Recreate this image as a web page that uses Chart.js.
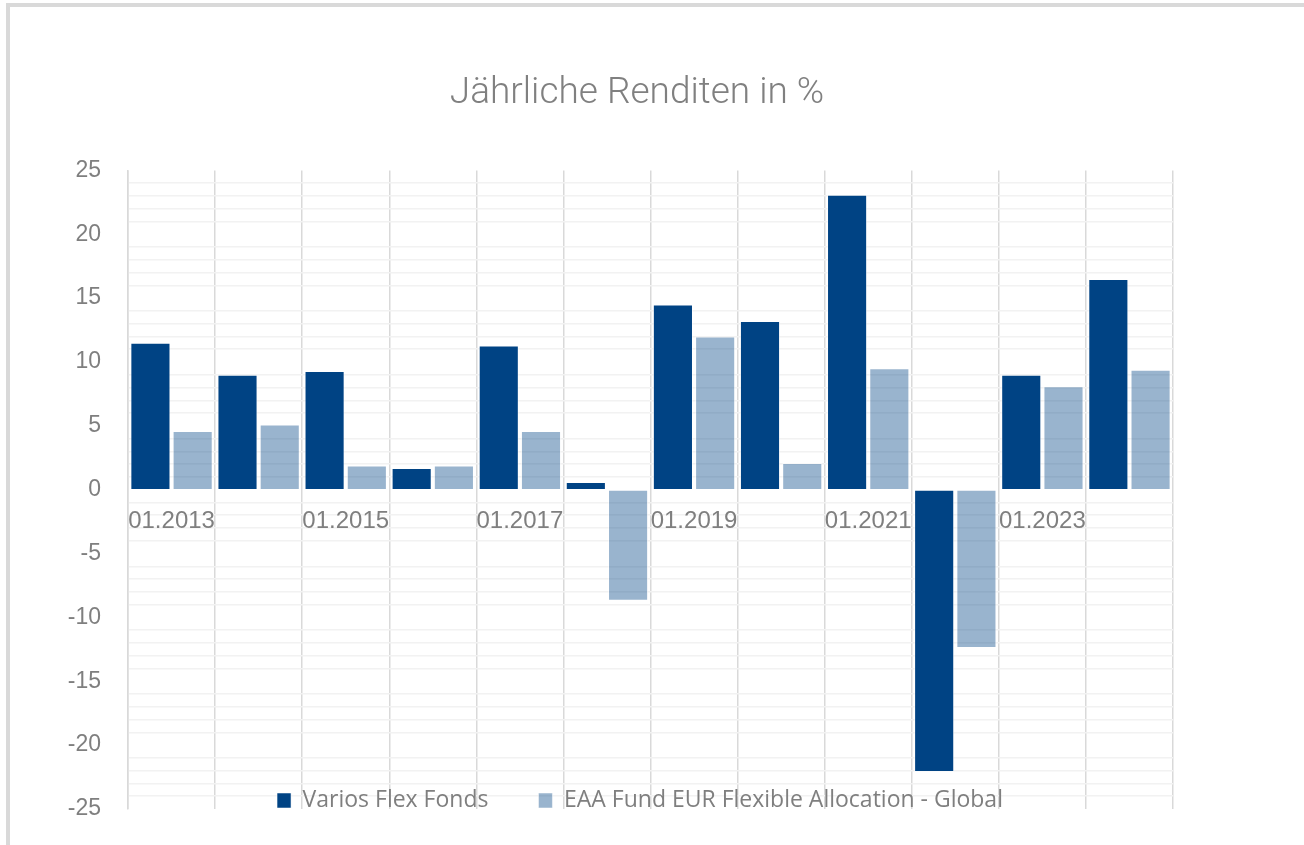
<!DOCTYPE html>
<html lang="de">
<head>
<meta charset="utf-8">
<title>Jährliche Renditen in %</title>
<script src="https://cdn.jsdelivr.net/npm/chart.js@4.4.1/dist/chart.umd.min.js"></script>
<style>
    html, body { margin: 0; padding: 0; background: #fff; }
    #wrap { position: relative; width: 1304px; height: 845px; overflow: hidden; }
    #frame {
        position: absolute; left: 6px; top: 3px; right: 0; bottom: 0;
        border-top: 4px solid #d9d9d9; border-left: 4px solid #d9d9d9;
    }
    #chart { position: absolute; left: 0; top: 0; }
</style>
</head>
<body>
<div id="wrap">
    <div id="frame"></div>
    <canvas id="chart" width="1304" height="845"></canvas>
</div>
<script>
const LABELS = ['01.2013', '01.2014', '01.2015', '01.2016', '01.2017', '01.2018',
                '01.2019', '01.2020', '01.2021', '01.2022', '01.2023', '01.2024'];

const VARIOS = [11.5, 9.0, 9.3, 1.7, 11.3, 0.6, 14.5, 13.2, 23.1, -22.1, 9.0, 16.5];
const EAA    = [4.6, 5.1, 1.9, 1.9, 4.6, -8.7, 12.0, 2.1, 9.5, -12.4, 8.1, 9.4];

const DARK  = '#004384';
const LIGHT = 'rgba(0, 67, 132, 0.4)';
const GREY  = '#7f7f7f';

// legend sits inside the plot area near the bottom, like the original;
// title and legend are centred on the page rather than on the padded box
const placeBlocks = {
    id: 'placeBlocks',
    afterLayout(chart) {
        const lg = chart.legend;
        lg.top    = 739;
        lg.bottom = 845;
        lg.height = lg.bottom - lg.top;
        const lgShift = 640 - (lg.left + lg.right) / 2;
        lg.left  += lgShift;
        lg.right += lgShift;

        const tb = chart.titleBlock;
        const tShift = 637 - (tb.left + tb.right) / 2;
        tb.left  += tShift;
        tb.right += tShift;
    },
};

Chart.defaults.font.family = "'Liberation Sans', Arial, sans-serif";

new Chart(document.getElementById('chart').getContext('2d'), {
    type: 'bar',
    data: {
        labels: LABELS,
        datasets: [
            {
                label:           'Varios Flex Fonds',
                data:            VARIOS,
                backgroundColor: DARK,
                borderColor:     'rgba(255, 255, 255, 0.5)',
                borderWidth:     1,
            },
            {
                label:           'EAA Fund EUR Flexible Allocation - Global',
                data:            EAA,
                backgroundColor: LIGHT,
                borderColor:     'rgba(255, 255, 255, 0.5)',
                borderWidth:     1,
            },
        ],
    },
    options: {
        responsive: false,
        animation:  false,
        categoryPercentage: 0.97,
        barPercentage:      0.95,
        layout: { padding: { left: 60, right: 131, top: 20, bottom: 0 } },
        scales: {
            x: {
                position: { y: 0 },
                offset:   true,
                border:   { display: false },
                grid: {
                    offset:    true,
                    drawTicks: false,
                    color:     '#d9d9d9',
                    lineWidth: 1.5,
                },
                ticks: {
                    autoSkip:    false,
                    maxRotation: 0,
                    padding:     17,
                    color:       GREY,
                    font:        { size: 24 },
                    callback:    (_, i) => (i % 2 === 0 ? LABELS[i] : ''),
                },
            },
            y: {
                min: -25,
                max: 25,
                afterFit: scale => { scale.width = 68; },
                border: { color: '#d9d9d9', width: 1.5 },
                grid: {
                    drawTicks:  true,
                    tickLength: 27,
                    tickColor:  'rgba(0,0,0,0)',
                    lineWidth:  1.5,
                    color: ctx => (ctx.tick && ctx.tick.value % 5 === 0 ? 'rgba(0,0,0,0)' : '#f2f2f2'),
                },
                ticks: {
                    stepSize: 1,
                    autoSkip: false,
                    padding:  0,
                    color:    GREY,
                    font:     { size: 23 },
                    callback: v => (v % 5 === 0 ? String(v) : ''),
                },
            },
        },
        plugins: {
            title: {
                display: true,
                text:    'Jährliche Renditen in %',
                color:   '#808080',
                font:    { family: 'Roboto', weight: 300, size: 37 },
                padding: { top: 52, bottom: 54 },
            },
            legend: {
                position:  'bottom',
                maxHeight: 36,
                labels: {
                    boxWidth:  14,
                    boxHeight: 15,
                    padding:   50,
                    color:     GREY,
                    font:      { family: "'Open Sans'", size: 23 },
                },
            },
            tooltip: { enabled: false },
        },
    },
    plugins: [placeBlocks],
});
</script>
</body>
</html>
